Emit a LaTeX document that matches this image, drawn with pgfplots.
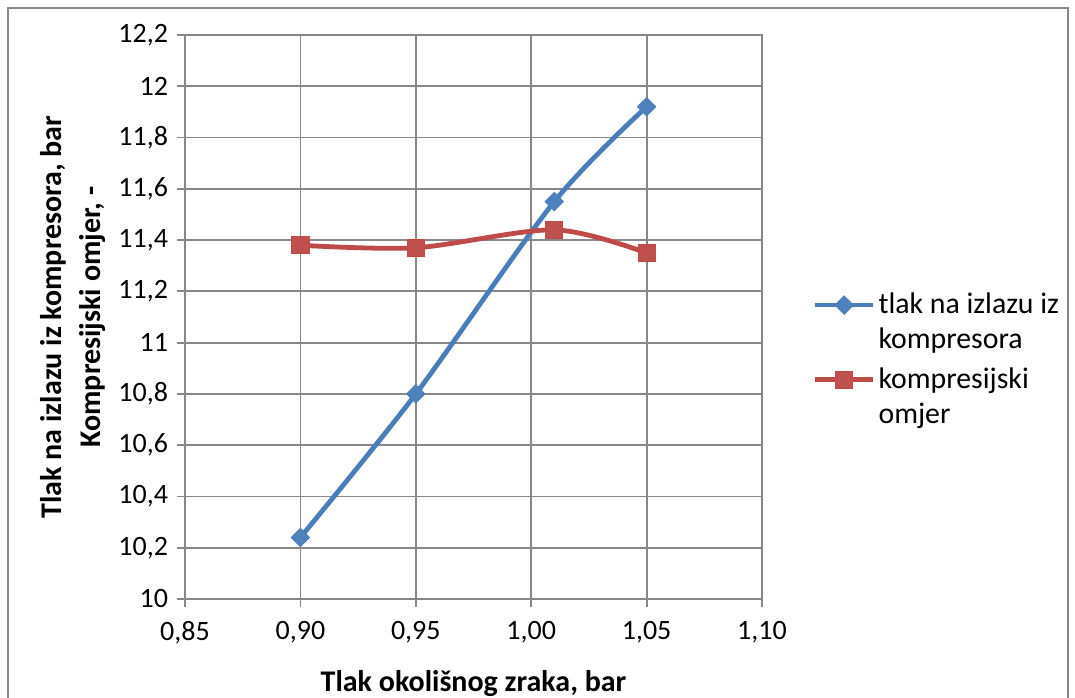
\documentclass[border=0pt]{standalone}
\usepackage{fontspec}
\setmainfont{Carlito}
\usepackage{pgfplots}
\pgfplotsset{compat=1.18}
\definecolor{bl}{HTML}{4A7EBB}
\definecolor{blf}{HTML}{4F81BD}
\definecolor{rd}{HTML}{BE4B48}
\definecolor{rdf}{HTML}{C0504D}
\definecolor{gr}{HTML}{888888}
\begin{document}
\begin{tikzpicture}
\path[use as bounding box] (0,0) rectangle (537.5bp,349bp);
\draw[gr, line width=0.6bp] (4bp,-1bp) -- (4bp,345bp) -- (534bp,345bp) -- (534bp,-1bp);
\begin{axis}[
  at={(92.5bp,49.5bp)}, anchor=south west,
  scale only axis, width=288.5bp, height=282bp,
  clip=false,
  xmin=0.85, xmax=1.10, ymin=10, ymax=12.2,
  xtick={0.85,0.90,0.95,1.00,1.05,1.10},
  ytick={10,10.2,10.4,10.6,10.8,11,11.2,11.4,11.6,11.8,12,12.2},
  grid=major, grid style={gr, line width=0.9bp},
  axis line style={gr, line width=0.9bp},
  tick style={gr, line width=0.9bp},
  tick align=outside, major tick length=4bp,
  xtick pos=left, ytick pos=left,
  xticklabel style={yshift=-3.5bp, /pgf/number format/.cd, fixed, fixed zerofill, precision=2, use comma},
  yticklabel style={xshift=-1bp, /pgf/number format/.cd, fixed, precision=1, use comma},
  /pgf/number format/assume math mode=true,
  ticklabel style={font=\fontsize{14bp}{16bp}\selectfont},
  xlabel={Tlak okolišnog zraka, bar},
  ylabel={Kompresijski omjer, -},
  label style={font=\bfseries\fontsize{15bp}{17.5bp}\selectfont},
  ylabel style={at={(axis description cs:-0.1473,0.5)}, anchor=base},
  xlabel style={at={(axis description cs:0.5,-0.149)}, anchor=center},
  legend style={at={(1.077,0.424)}, anchor=west, draw=none, fill=none,
    font=\fontsize{14.9bp}{17.5bp}\selectfont, cells={align=left}, row sep=4bp,
    nodes={inner xsep=1.5bp}},
  legend cell align=left,
  legend image code/.code={\draw[mark repeat=2,mark phase=2,#1] plot coordinates {(0bp,8.75bp) (14.5bp,8.75bp) (29bp,8.75bp)};},
]
\addplot[bl, line width=2.4bp, smooth, tension=0.5, mark=square*, mark size=3.2bp,
  mark options={rotate=45, fill=blf, draw=bl, line width=0.5bp}]
  coordinates {(0.90,10.24) (0.95,10.80) (1.01,11.55) (1.05,11.92)};
\addlegendentry{tlak na izlazu iz\\kompresora}
\addplot[rd, line width=2.4bp, smooth, tension=0.5, mark=square*, mark size=4.3bp,
  mark options={fill=rdf, draw=rd, line width=0.5bp}]
  coordinates {(0.90,11.38) (0.95,11.37) (1.01,11.44) (1.05,11.35)};
\addlegendentry{kompresijski\\omjer}
\node[rotate=90, anchor=base, font=\bfseries\fontsize{15bp}{17.5bp}\selectfont, inner sep=0pt]
  at (axis description cs:-0.2132,0.5) {Tlak na izlazu iz kompresora, bar};
\end{axis}
\end{tikzpicture}
\end{document}
